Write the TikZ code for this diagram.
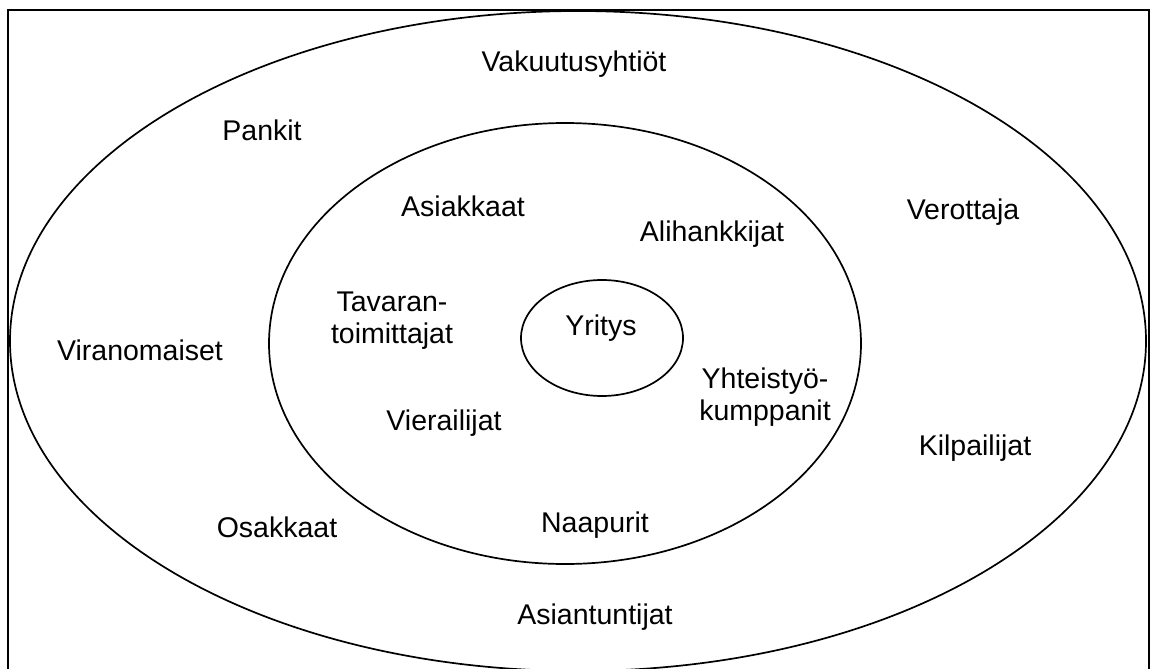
\documentclass[tikz,border=0pt]{standalone}
\usepackage{fontspec}
\setmainfont{Liberation Sans}
\usetikzlibrary{shapes.geometric}
\begin{document}
\begin{tikzpicture}[x=1pt,y=-1pt,
  ring/.style={draw=black,line width=1.7pt,ellipse,inner sep=0pt},
  lbl/.style={font=\fontsize{28.5}{31.5}\selectfont,anchor=base,inner sep=0pt,align=center}]
\useasboundingbox (0,0) rectangle (1151,669);
\begin{scope}
\clip (0,0) rectangle (1151,669);
\draw[line width=1.7pt] (8,10) rectangle (1149,690);
\node[ring,minimum width=1136pt,minimum height=660pt] (outer) at (578,341) {};
\node[ring,minimum width=592pt,minimum height=441pt] (middle) at (565,343.5) {};
\node[ring,minimum width=162pt,minimum height=116pt] (inner) at (602,338) {};
\end{scope}
\node[lbl] (vak) at (574,72) {Vakuutusyhtiöt};
\node[lbl] (pan) at (262,140) {Pankit};
\node[lbl] (asi) at (463,216) {Asiakkaat};
\node[lbl] (ali) at (712,241) {Alihankkijat};
\node[lbl] (ver) at (963,219) {Verottaja};
\node[lbl] (tav) at (392,343) {Tavaran-\\toimittajat};
\node[lbl] (yri) at (601,335) {Yritys};
\node[lbl] (vir) at (140,360) {Viranomaiset};
\node[lbl] (yht) at (765,420) {Yhteistyö-\\kumppanit};
\node[lbl] (vie) at (444,430) {Vierailijat};
\node[lbl] (kil) at (975,455) {Kilpailijat};
\node[lbl] (naa) at (595,532) {Naapurit};
\node[lbl] (osa) at (277,537) {Osakkaat};
\node[lbl] (asa) at (595,624) {Asiantuntijat};
\end{tikzpicture}
\end{document}
